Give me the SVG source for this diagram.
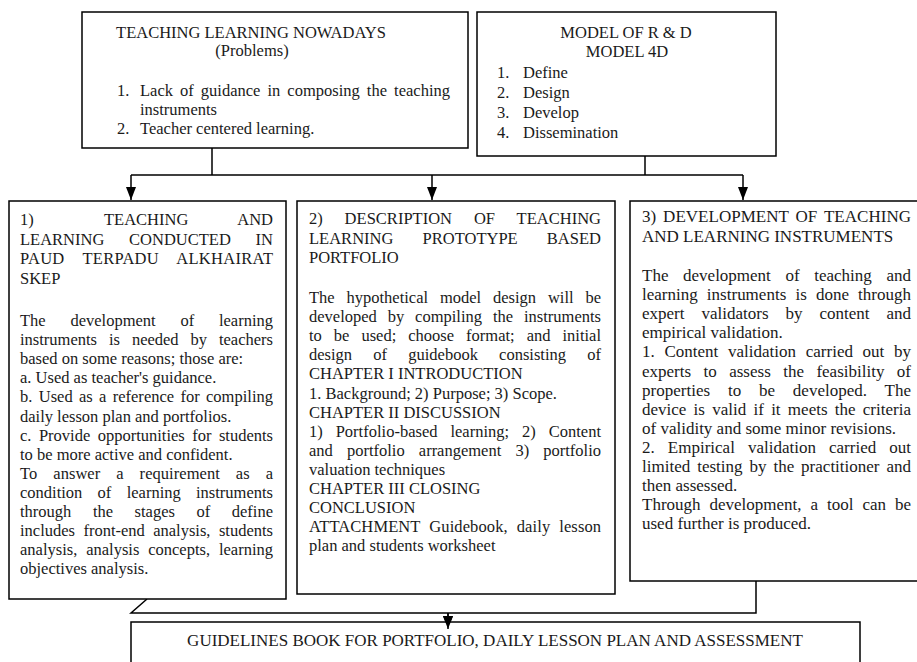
<svg xmlns="http://www.w3.org/2000/svg" width="917" height="662" viewBox="0 0 917 662">
<defs>
<style>
.box{fill:#fff;stroke:#000;stroke-width:1.5}
.ln{fill:none;stroke:#000;stroke-width:1.5}
.t{font-family:"Liberation Serif","Times New Roman",serif;font-size:16.5px;fill:#1a1a1a}
.t3{font-size:17px}
.c{text-anchor:middle}
</style>
<marker id="ah" markerUnits="userSpaceOnUse" markerWidth="13" markerHeight="10" refX="13" refY="5" orient="auto">
<path d="M0,0 L13,5 L0,10 z" fill="#000"/>
</marker>
</defs>
<rect width="917" height="662" fill="#fff"/>

<g id="connectors">
<path class="ln" d="M212,148 V175 M645,156 V175 M131,175 H743"/>
<path class="ln" d="M131,175 V200" marker-end="url(#ah)"/>
<path class="ln" d="M432,175 V200" marker-end="url(#ah)"/>
<path class="ln" d="M743,175 V200" marker-end="url(#ah)"/>
<path class="ln" d="M147,599 L131,613 H756 V581"/>
<path class="ln" d="M448,613 V629" marker-end="url(#ah)"/>
</g>

<g id="problems">
<rect class="box" x="82" y="12" width="386" height="136"/>
<text class="t c" x="251" y="38">TEACHING LEARNING NOWADAYS</text>
<text class="t c" x="252" y="56">(Problems)</text>
<text class="t" x="117" y="96">1.</text>
<text class="t" x="140" y="96" textLength="310" lengthAdjust="spacing" style="word-spacing:2.9px">Lack of guidance in composing the teaching</text>
<text class="t" x="140" y="115">instruments</text>
<text class="t" x="117" y="134">2.</text>
<text class="t" x="140" y="134">Teacher centered learning.</text>
</g>

<g id="model">
<rect class="box" x="477" y="12" width="299" height="144"/>
<text class="t c" x="626" y="38">MODEL OF R &amp; D</text>
<text class="t c" x="627" y="57">MODEL 4D</text>
<text class="t" x="497" y="78">1.</text><text class="t" x="523" y="78">Define</text>
<text class="t" x="497" y="98">2.</text><text class="t" x="523" y="98">Design</text>
<text class="t" x="497" y="118">3.</text><text class="t" x="523" y="118">Develop</text>
<text class="t" x="497" y="138">4.</text><text class="t" x="523" y="138">Dissemination</text>
</g>

<g id="box1">
<rect class="box" x="9" y="201" width="277" height="398"/>
<text class="t" x="20" y="225">1)</text>
<text class="t" x="104" y="225">TEACHING</text>
<text class="t" x="273" y="225" text-anchor="end">AND</text>
<text class="t" x="20" y="244.5" textLength="253" lengthAdjust="spacing" style="word-spacing:20.6px">LEARNING CONDUCTED IN</text>
<text class="t" x="20" y="264" textLength="253" lengthAdjust="spacing" style="word-spacing:13.7px">PAUD TERPADU ALKHAIRAT</text>
<text class="t" x="20" y="283.5">SKEP</text>
<text class="t" x="20" y="326" textLength="253" lengthAdjust="spacing" style="word-spacing:20.6px">The development of learning</text>
<text class="t" x="20" y="345.1" textLength="253" lengthAdjust="spacing" style="word-spacing:7.8px">instruments is needed by teachers</text>
<text class="t" x="20" y="364.2">based on some reasons; those are:</text>
<text class="t" x="20" y="383.3">a. Used as teacher's guidance.</text>
<text class="t" x="20" y="402.4" textLength="253" lengthAdjust="spacing" style="word-spacing:2.2px">b. Used as a reference for compiling</text>
<text class="t" x="20" y="421.5">daily lesson plan and portfolios.</text>
<text class="t" x="20" y="440.6" textLength="253" lengthAdjust="spacing" style="word-spacing:3.3px">c. Provide opportunities for students</text>
<text class="t" x="20" y="459.7">to be more active and confident.</text>
<text class="t" x="20" y="478.8" textLength="253" lengthAdjust="spacing" style="word-spacing:11.8px">To answer a requirement as a</text>
<text class="t" x="20" y="497.9" textLength="253" lengthAdjust="spacing" style="word-spacing:11.2px">condition of learning instruments</text>
<text class="t" x="20" y="517" textLength="253" lengthAdjust="spacing" style="word-spacing:17.4px">through the stages of define</text>
<text class="t" x="20" y="536.1" textLength="253" lengthAdjust="spacing" style="word-spacing:4.3px">includes front-end analysis, students</text>
<text class="t" x="20" y="555.2" textLength="253" lengthAdjust="spacing" style="word-spacing:4.7px">analysis, analysis concepts, learning</text>
<text class="t" x="20" y="574.3">objectives analysis.</text>
</g>

<g id="box2">
<rect class="box" x="297" y="201" width="318" height="393"/>
<text class="t" x="309" y="224" textLength="292" lengthAdjust="spacing" style="word-spacing:17.7px">2) DESCRIPTION OF TEACHING</text>
<text class="t" x="309" y="243.5" textLength="292" lengthAdjust="spacing" style="word-spacing:25px">LEARNING PROTOTYPE BASED</text>
<text class="t" x="309" y="263">PORTFOLIO</text>
<text class="t" x="309" y="303" textLength="292" lengthAdjust="spacing" style="word-spacing:7.7px">The hypothetical model design will be</text>
<text class="t" x="309" y="322.1" textLength="292" lengthAdjust="spacing" style="word-spacing:6.8px">developed by compiling the instruments</text>
<text class="t" x="309" y="341.2" textLength="292" lengthAdjust="spacing" style="word-spacing:7.9px">to be used; choose format; and initial</text>
<text class="t" x="309" y="360.3" textLength="292" lengthAdjust="spacing" style="word-spacing:17.1px">design of guidebook consisting of</text>
<text class="t" x="309" y="379.4">CHAPTER I INTRODUCTION</text>
<text class="t" x="309" y="398.5">1. Background; 2) Purpose; 3) Scope.</text>
<text class="t" x="309" y="417.6">CHAPTER II DISCUSSION</text>
<text class="t" x="309" y="436.7" textLength="292" lengthAdjust="spacing" style="word-spacing:8.8px">1) Portfolio-based learning; 2) Content</text>
<text class="t" x="309" y="455.8" textLength="292" lengthAdjust="spacing" style="word-spacing:10px">and portfolio arrangement 3) portfolio</text>
<text class="t" x="309" y="474.9">valuation techniques</text>
<text class="t" x="309" y="494">CHAPTER III CLOSING</text>
<text class="t" x="309" y="513.1">CONCLUSION</text>
<text class="t" x="309" y="532.2" textLength="292" lengthAdjust="spacing" style="word-spacing:4.8px">ATTACHMENT Guidebook, daily lesson</text>
<text class="t" x="309" y="551.3">plan and students worksheet</text>
</g>

<g id="box3">
<rect class="box" x="630" y="201" width="295" height="380"/>
<text class="t t3" x="642" y="222" textLength="269" lengthAdjust="spacing" style="word-spacing:2.6px">3) DEVELOPMENT OF TEACHING</text>
<text class="t t3" x="642" y="242">AND LEARNING INSTRUMENTS</text>
<text class="t t3" x="642" y="281" textLength="269" lengthAdjust="spacing" style="word-spacing:10.4px">The development of teaching and</text>
<text class="t t3" x="642" y="300.1" textLength="269" lengthAdjust="spacing" style="word-spacing:4.9px">learning instruments is done through</text>
<text class="t t3" x="642" y="319.2" textLength="269" lengthAdjust="spacing" style="word-spacing:12.7px">expert validators by content and</text>
<text class="t t3" x="642" y="338.3">empirical validation.</text>
<text class="t t3" x="642" y="357.4" textLength="269" lengthAdjust="spacing" style="word-spacing:5.4px">1. Content validation carried out by</text>
<text class="t t3" x="642" y="376.5" textLength="269" lengthAdjust="spacing" style="word-spacing:8.2px">experts to assess the feasibility of</text>
<text class="t t3" x="642" y="395.6" textLength="269" lengthAdjust="spacing" style="word-spacing:13.5px">properties to be developed. The</text>
<text class="t t3" x="642" y="414.7" textLength="269" lengthAdjust="spacing" style="word-spacing:3px">device is valid if it meets the criteria</text>
<text class="t t3" x="642" y="433.8">of validity and some minor revisions.</text>
<text class="t t3" x="642" y="452.9" textLength="269" lengthAdjust="spacing" style="word-spacing:8.8px">2. Empirical validation carried out</text>
<text class="t t3" x="642" y="472" textLength="269" lengthAdjust="spacing" style="word-spacing:2.7px">limited testing by the practitioner and</text>
<text class="t t3" x="642" y="491.1">then assessed.</text>
<text class="t t3" x="642" y="510.2" textLength="269" lengthAdjust="spacing" style="word-spacing:4.7px">Through development, a tool can be</text>
<text class="t t3" x="642" y="529.3">used further is produced.</text>
</g>

<g id="guidelines">
<rect class="box" x="131" y="622" width="729" height="60"/>
<text class="t t3 c" x="495" y="646">GUIDELINES BOOK FOR PORTFOLIO, DAILY LESSON PLAN AND ASSESSMENT</text>
</g>
<path class="ln" d="M448,613 V629" marker-end="url(#ah)"/>
</svg>
